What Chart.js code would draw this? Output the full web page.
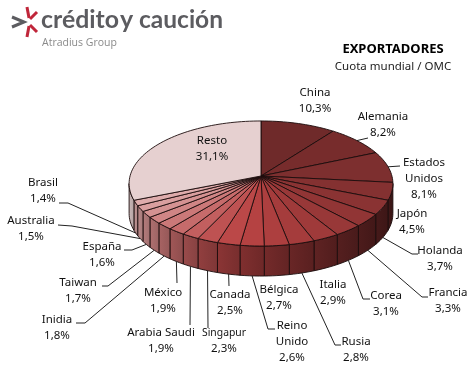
<!DOCTYPE html>
<html>
<head>
<meta charset="utf-8">
<title>Exportadores</title>
<script src="https://cdn.jsdelivr.net/npm/chart.js@4"></script>
<style>
html, body { margin: 0; padding: 0; background: #fff; }
canvas { display: block; }
</style>
</head>
<body>
<canvas id="chart" width="475" height="369"></canvas>
<script>
var categories = ['China', 'Alemania', ['Estados', 'Unidos'], 'Japón', 'Holanda', 'Francia', 'Corea', 'Italia', 'Rusia', 'Bélgica',
	['Reino', 'Unido'], 'Canada', 'Singapur', 'Arabia Saudi', 'México', 'Inidia', 'Taiwan', 'España', 'Australia', 'Brasil', 'Resto'];
var shares = [10.3, 8.2, 8.1, 4.5, 3.7, 3.3, 3.1, 2.9, 2.8, 2.7, 2.6, 2.5, 2.3, 1.9, 1.9, 1.8, 1.7, 1.6, 1.5, 1.4, 31.1];

var sliceColors = ['#6f2a2a', '#772c2c', '#7d2f2f', '#843131', '#8a3333', '#913535', '#983838', '#9f3a3a', '#a53c3c', '#ad3f3f',
	'#b54242', '#bb4848', '#be5252', '#c25f5f', '#c66b6b', '#cb7878', '#d08585', '#d49292', '#d99f9f', '#deacac', '#e6d0d0'];

// where each label sits (centre x, y of first line)
var labelX = [315, 383, 424, 412, 440, 448, 386, 333, 356, 279, 292, 230, 224, 161, 163, 57, 78, 102, 31, 43, 212];
var labelY = [93, 117, 163, 214, 251, 293, 296, 285, 342, 290, 326, 295, 333, 333, 293, 320, 283, 247, 221, 183, 141];

// leader lines: null = none, otherwise the way points after the rim
var leaders = [
	null, [[368, 138]], [[400, 166]], null, [[412, 254], [418, 254]], [[422, 297], [428, 297]], [[363, 299], [370, 299]], null,
	[[335, 345], [341, 345]], null, [[268, 329], [275, 329]], [[229, 286]], [[208, 328]], [[190, 325]], [[177, 283]],
	[[85, 323], [76, 323]], [[108, 286], [102, 286]], [[132, 250], [124, 250]], [[72, 226], [58, 225]], [[68, 203], [59, 203]], null
];

var tilt = 0.12;      // perspective of the disc
var squashY = 0.467;  // height of the disc against its width
var squashX = 0.992;
var depth = 30;       // thickness of the side

function project(arc, a, drop) {
	var w = 1 - tilt * Math.sin(a);
	return {
		x: arc.x + arc.outerRadius * squashX * Math.cos(a) / w,
		y: arc.y + arc.outerRadius * squashY * Math.sin(a) / w + (drop || 0)
	};
}

function shade(hex, f) {
	var r = parseInt(hex.substr(1, 2), 16), g = parseInt(hex.substr(3, 2), 16), b = parseInt(hex.substr(5, 2), 16);
	return 'rgb(' + Math.round(r * f) + ',' + Math.round(g * f) + ',' + Math.round(b * f) + ')';
}

function sideFactor(arc, x) {
	return 0.84 - 0.38 * (x - (arc.x - arc.outerRadius)) / (2 * arc.outerRadius);
}

function drawSide(ctx, arc) {
	var edge = Math.asin(tilt);
	var a0 = Math.max(arc.startAngle, edge), a1 = Math.min(arc.endAngle, Math.PI - edge);
	if (a1 <= a0) return;
	var n = Math.ceil((a1 - a0) * 30), i, p;
	var first = project(arc, a0), last = project(arc, a1);
	ctx.beginPath();
	for (i = 0; i <= n; i++) {
		p = project(arc, a0 + (a1 - a0) * i / n);
		if (i == 0) ctx.moveTo(p.x, p.y); else ctx.lineTo(p.x, p.y);
	}
	for (i = n; i >= 0; i--) {
		p = project(arc, a0 + (a1 - a0) * i / n, depth);
		ctx.lineTo(p.x, p.y);
	}
	ctx.closePath();
	var grad = ctx.createLinearGradient(first.x, 0, last.x, 0);
	grad.addColorStop(0, shade(arc.options.backgroundColor, sideFactor(arc, first.x) * 0.94));
	grad.addColorStop(1, shade(arc.options.backgroundColor, sideFactor(arc, last.x) * 1.04));
	ctx.fillStyle = grad;
	ctx.fill();
	ctx.strokeStyle = '#1c0c0c';
	ctx.lineWidth = 0.9;
	ctx.stroke();
}

function drawTop(ctx, arc) {
	var n = Math.ceil((arc.endAngle - arc.startAngle) * 30), i, p;
	ctx.beginPath();
	ctx.moveTo(arc.x, arc.y);
	for (i = 0; i <= n; i++) {
		p = project(arc, arc.startAngle + (arc.endAngle - arc.startAngle) * i / n);
		ctx.lineTo(p.x, p.y);
	}
	ctx.closePath();
	ctx.fillStyle = arc.options.backgroundColor;
	ctx.fill();
	ctx.strokeStyle = '#1c0c0c';
	ctx.lineWidth = 0.9;
	ctx.stroke();
}

function drawLeader(ctx, arc, points) {
	var mid = (arc.startAngle + arc.endAngle) / 2;
	var start = project(arc, mid, Math.sin(mid) > 0.12 ? depth : 0);
	ctx.beginPath();
	ctx.moveTo(start.x, start.y);
	points.forEach(function(pt) { ctx.lineTo(pt[0], pt[1]); });
	ctx.strokeStyle = '#222';
	ctx.lineWidth = 1;
	ctx.stroke();
}

function drawLabel(ctx, i) {
	var lines = [].concat(categories[i]);
	lines.push(shares[i].toFixed(1).replace('.', ',') + '%');
	ctx.font = '11.5px "Noto Sans"';
	ctx.fillStyle = '#111';
	ctx.textAlign = 'center';
	ctx.textBaseline = 'middle';
	lines.forEach(function(line, k) {
		ctx.fillText(line, labelX[i], labelY[i] + k * 16, line == 'Singapur' ? 44 : undefined);
	});
}

function drawHeader(ctx) {
	ctx.textAlign = 'center';
	ctx.textBaseline = 'middle';
	ctx.fillStyle = '#000';
	ctx.font = 'bold 13px "Noto Sans"';
	ctx.fillText('EXPORTADORES', 393, 49);
	ctx.font = '11.5px "Noto Sans"';
	ctx.fillStyle = '#222';
	ctx.fillText('Cuota mundial / OMC', 393, 67);

	// logo
	ctx.lineCap = 'butt';
	ctx.strokeStyle = '#5c5c60';
	ctx.lineWidth = 3;
	ctx.beginPath();
	ctx.moveTo(12, 17);
	ctx.lineTo(24, 22);
	ctx.lineTo(12, 27);
	ctx.stroke();
	ctx.strokeStyle = '#c0263a';
	[[27, 7, 29, 18], [37, 12, 30, 19], [27, 37, 29, 26], [37, 32, 30, 25]].forEach(function(s) {
		ctx.beginPath();
		ctx.moveTo(s[0], s[1]);
		ctx.lineTo(s[2], s[3]);
		ctx.stroke();
	});
	ctx.textAlign = 'left';
	ctx.textBaseline = 'alphabetic';
	ctx.fillStyle = '#5c5c60';
	ctx.font = 'bold 25px Lato';
	ctx.fillText('crédito', 41, 28, 78);
	ctx.fillText('y', 120, 28);
	ctx.fillText('caución', 139, 28, 84);
	ctx.font = '10.5px "Open Sans"';
	ctx.fillStyle = '#8a8a8a';
	ctx.fillText('Atradius Group', 42, 46);
}

var disc = {
	id: 'disc',
	beforeDatasetsDraw: function(chart) {
		var ctx = chart.ctx;
		var arcs = chart.getDatasetMeta(0).data;
		ctx.save();
		arcs.forEach(function(arc, i) {
			if (leaders[i]) drawLeader(ctx, arc, leaders[i]);
		});
		arcs.forEach(function(arc) { drawSide(ctx, arc); });
		arcs.forEach(function(arc) { drawTop(ctx, arc); });
		arcs.forEach(function(arc, i) { drawLabel(ctx, i); });
		drawHeader(ctx);
		ctx.restore();
		return false;
	}
};

var ctx = document.getElementById('chart');
var pieChart = new Chart(ctx, {
	type: 'pie',
	data: {
		labels: categories,
		datasets: [{
			data: shares,
			backgroundColor: sliceColors,
			borderWidth: 0
		}]
	},
	options: {
		responsive: false,
		animation: false,
		layout: { padding: { left: 129, right: 82, top: 44, bottom: 61 } },
		plugins: {
			legend: { display: false },
			tooltip: { enabled: false }
		}
	},
	plugins: [disc]
});
</script>
</body>
</html>
